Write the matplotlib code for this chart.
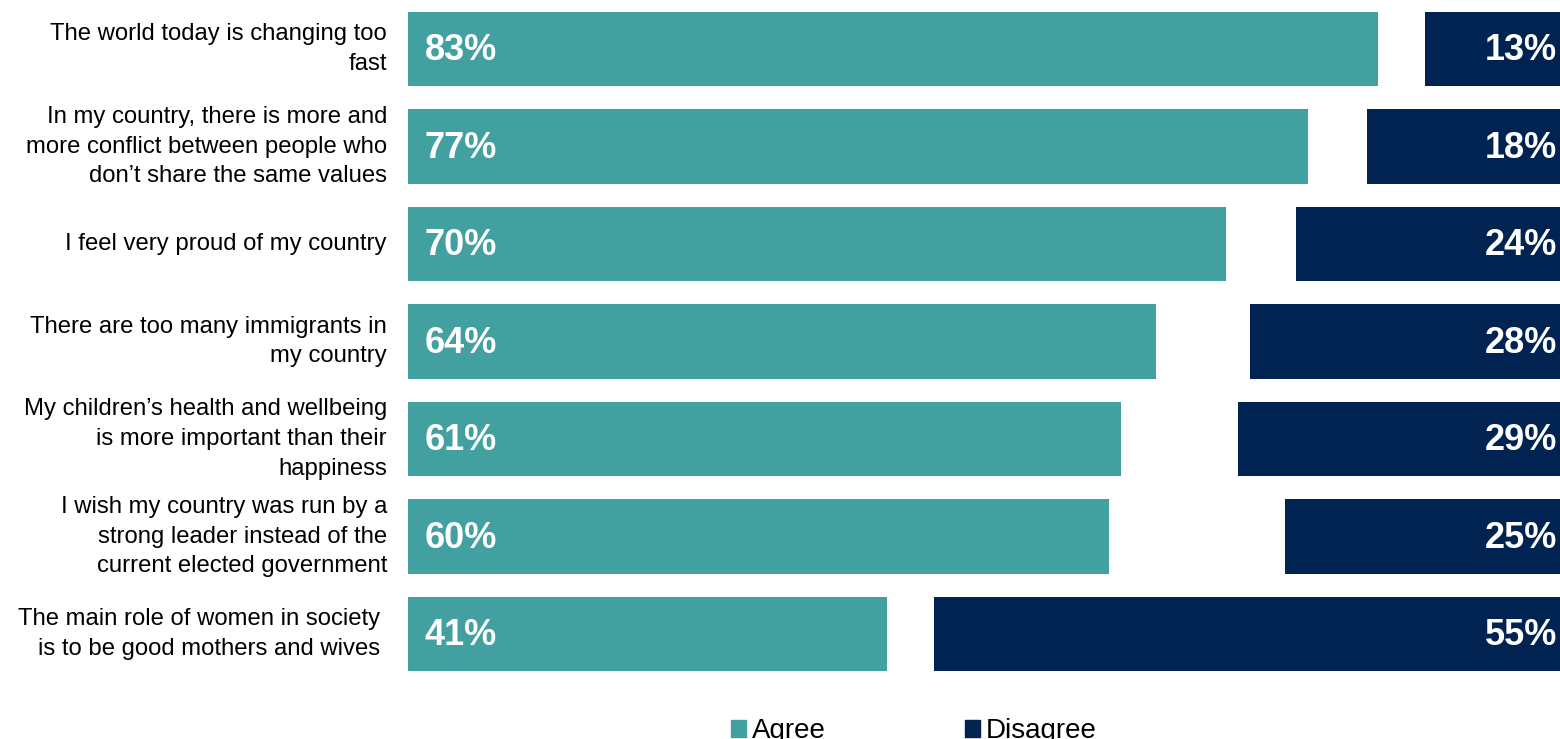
import matplotlib.pyplot as plt
from matplotlib.patches import Patch

plt.rcParams['font.family'] = ['Liberation Sans', 'DejaVu Sans']

statements = [
    "The world today is changing too\nfast",
    "In my country, there is more and\nmore conflict between people who\ndon\u2019t share the same values",
    "I feel very proud of my country",
    "There are too many immigrants in\nmy country",
    "My children\u2019s health and wellbeing\nis more important than their\nhappiness",
    "I wish my country was run by a\nstrong leader instead of the\ncurrent elected government",
    "The main role of women in society\nis to be good mothers and wives",
]
agree = [83, 77, 70, 64, 61, 60, 41]
disagree = [13, 18, 24, 28, 29, 25, 55]

teal = '#43a0a0'
navy = '#002351'

fig = plt.figure(figsize=(15.6, 7.39), dpi=100)
ax = fig.add_axes([408 / 1560, 1 - 682.75 / 739, 1169 / 1560, 682.5 / 739])

y = list(range(len(statements)))
ax.barh(y, agree, height=0.76, color=teal)
ax.barh(y, disagree, left=[100 - d for d in disagree], height=0.76, color=navy)

for i in y:
    ax.text(1.45, i + 0.02, f"{agree[i]}%", ha='left', va='center', color='white',
            fontsize=26, fontweight='bold')
    ax.text(98.3, i + 0.02, f"{disagree[i]}%", ha='right', va='center', color='white',
            fontsize=26, fontweight='bold')
    xoff = -2.4 if i == len(statements) - 1 else -1.8
    ax.text(xoff, i, statements[i], ha='right', va='center', fontsize=17.2,
            linespacing=1.45)

ax.set_xlim(0, 100)
ax.set_ylim(len(statements) - 0.5, -0.5)
ax.axis('off')

handles = [Patch(color=teal, label='Agree'), Patch(color=navy, label='Disagree')]
fig.legend(handles=handles, loc='center left', ncol=2, frameon=False,
           bbox_to_anchor=(731 / 1560, 1 - 731 / 739), borderpad=0, borderaxespad=0,
           fontsize=20, handlelength=0.55, handleheight=0.55, handletextpad=0.2,
           columnspacing=5.0)

fig.savefig('out.png', dpi=100)
